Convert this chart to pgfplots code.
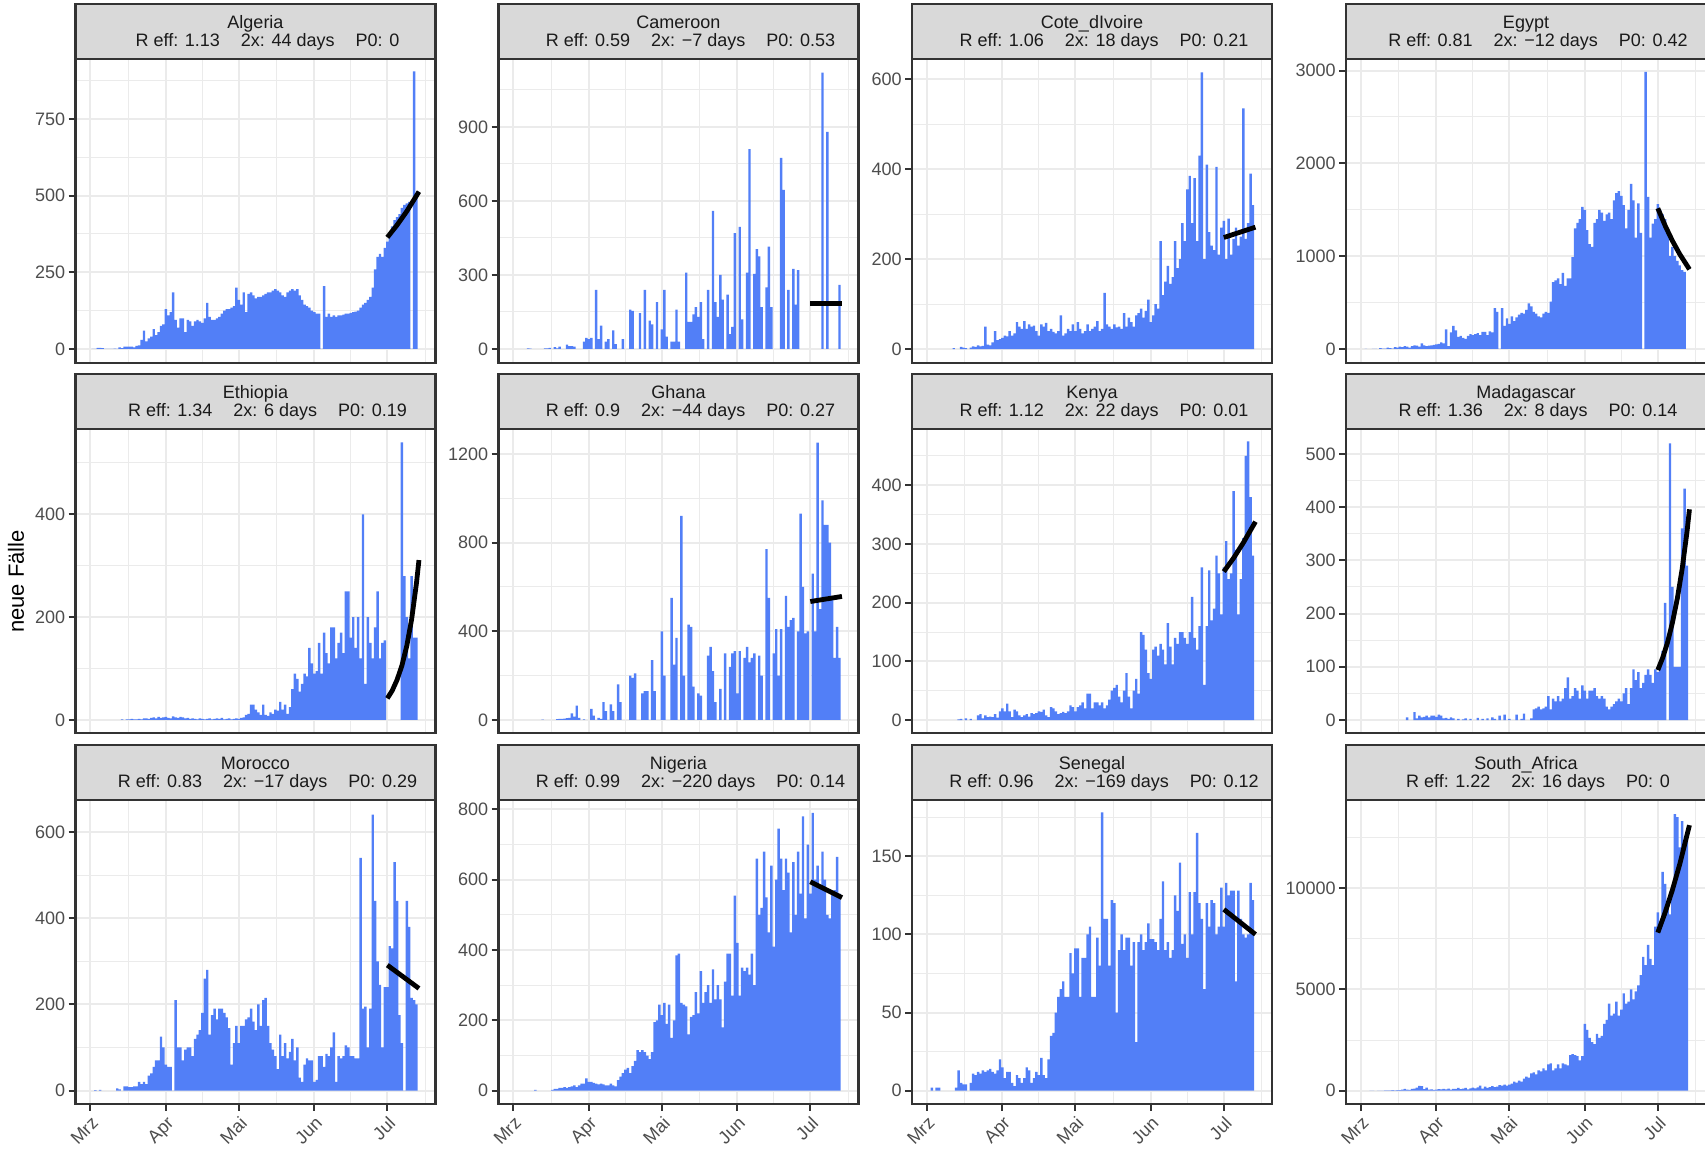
\documentclass[border=0pt]{standalone}
\usepackage{fontspec}
\setmainfont{Liberation Sans}
\usepackage{pgfplots}
\usepackage{pgfplotstable}
\pgfplotsset{compat=1.18}
\definecolor{grey10}{HTML}{1A1A1A}
\definecolor{grey20}{HTML}{333333}
\definecolor{grey30}{HTML}{4D4D4D}
\definecolor{grey85}{HTML}{D9D9D9}
\definecolor{grey92}{HTML}{EBEBEB}
\definecolor{barblue}{RGB}{82,127,247}
\newcommand\tickf{\fontsize{9}{10}\selectfont}
\newcommand\gap{\hspace{10.5pt}}

\pgfplotsset{
  panel/.style={
    scale only axis, width=180pt, height=152pt,
    xmin=-6.15, xmax=141.8,
    axis line style={draw=grey20, line width=1.1pt},
    tick align=outside, xtick pos=bottom, ytick pos=left,
    xtick={0,31,61,92,122},
    minor xtick={15.5,46,76.5,107,137.5},
    grid=both,
    major grid style={draw=grey92, line width=1pt},
    minor grid style={draw=grey92, line width=0.5pt},
    major tick length=3.5pt, minor tick length=0pt,
    tick style={draw=grey20, line width=1pt},
    yticklabel style={font=\tickf, text=grey30, inner sep=1.5pt},
    xticklabels={},
    /pgf/number format/assume math mode=true,
  },
  toprow/.style={xmajorticks=false},
  botrow/.style={xticklabels={Mrz,Apr,Mai,Jun,Jul},
    xticklabel style={rotate=45, anchor=north east, font=\tickf, text=grey30, inner sep=1.5pt}},
  bars/.style={ybar, bar width=1, fill=barblue, draw=none},
  fit/.style={black, line width=2.4pt},
}

\newcommand\strip[4]{\begin{scope}[shift={(#1,#2)}]
  \draw[draw=grey20, line width=1.1pt, fill=grey85] (0,0) rectangle (180pt,27.5pt);
  \node[anchor=base, text=grey10, font=\tickf, inner sep=0pt] at (90pt,15.4pt) {#3};
  \node[anchor=base, text=grey10, font=\tickf, inner sep=0pt] at (96pt,6.2pt) {#4};
\end{scope}}

\pgfplotstableread[row sep=\\]{d v\\1 0\\2 0\\3 4\\4 4\\5 3\\6 0\\7 0\\8 0\\9 0\\10 1\\11 0\\12 5\\13 3\\14 8\\15 8\\16 8\\17 8\\18 5\\19 10\\20 12\\21 30\\22 60\\23 25\\24 35\\25 40\\26 65\\27 45\\28 55\\29 75\\30 80\\31 130\\32 110\\33 120\\34 185\\35 95\\36 70\\37 100\\38 100\\39 55\\40 95\\41 90\\42 75\\43 90\\44 95\\45 90\\46 85\\47 100\\48 150\\49 105\\50 95\\51 95\\52 100\\53 105\\54 115\\55 125\\56 130\\57 130\\58 135\\59 140\\60 200\\61 160\\62 145\\63 185\\64 120\\65 180\\66 185\\67 175\\68 165\\69 170\\70 170\\71 175\\72 180\\73 185\\74 185\\75 190\\76 195\\77 190\\78 185\\79 175\\80 170\\81 185\\82 190\\83 195\\84 190\\85 195\\86 175\\87 160\\88 145\\89 140\\90 135\\91 125\\92 120\\93 115\\94 115\\95 0\\96 205\\97 105\\98 115\\99 105\\100 110\\101 105\\102 110\\103 110\\104 112\\105 115\\106 115\\107 118\\108 120\\109 122\\110 125\\111 135\\112 145\\113 150\\114 160\\115 170\\116 200\\117 260\\118 300\\119 310\\120 300\\121 330\\122 350\\123 380\\124 400\\125 420\\126 430\\127 440\\128 460\\129 470\\130 475\\131 480\\132 0\\133 905\\134 495\\}\tALG

\pgfplotstableread[row sep=\\]{d v\\6 2\\7 1\\13 2\\14 3\\15 5\\17 8\\18 3\\19 10\\22 18\\23 12\\24 12\\25 10\\29 30\\30 45\\31 40\\32 45\\34 240\\35 40\\36 95\\38 30\\39 40\\41 75\\42 20\\45 40\\48 160\\49 155\\52 145\\54 240\\56 115\\57 100\\59 190\\61 80\\62 240\\63 50\\65 30\\66 30\\67 160\\68 30\\71 310\\72 110\\73 110\\74 140\\75 170\\76 130\\77 190\\78 40\\80 240\\82 560\\83 190\\84 130\\85 300\\86 200\\88 220\\89 60\\90 90\\91 470\\93 495\\94 120\\96 310\\97 810\\99 305\\100 405\\101 375\\102 170\\104 250\\105 415\\106 170\\110 775\\111 645\\113 240\\115 325\\116 180\\117 320\\127 1120\\129 880\\134 260\\}\tCAM

\pgfplotstableread[row sep=\\]{d v\\11 2\\14 5\\15 3\\16 2\\18 3\\19 6\\20 5\\21 8\\22 6\\23 7\\24 50\\25 10\\26 8\\27 15\\28 40\\29 20\\30 22\\31 25\\32 30\\33 28\\34 40\\35 30\\36 35\\37 60\\38 50\\39 45\\40 62\\41 45\\42 55\\43 50\\44 52\\45 40\\46 30\\47 55\\48 50\\49 58\\50 40\\51 45\\52 38\\53 35\\54 40\\55 75\\56 30\\57 35\\58 45\\59 40\\60 55\\61 40\\62 60\\63 45\\64 35\\65 40\\66 55\\67 40\\68 45\\69 50\\70 62\\71 40\\72 45\\73 125\\74 55\\75 50\\76 45\\77 55\\78 48\\79 50\\80 45\\81 80\\82 50\\83 70\\84 60\\85 50\\86 75\\87 80\\88 90\\89 70\\90 85\\91 110\\92 60\\93 75\\94 100\\95 90\\96 240\\97 120\\98 150\\99 185\\100 145\\101 160\\102 240\\103 180\\104 200\\105 280\\106 240\\107 355\\108 385\\109 280\\110 380\\111 240\\112 430\\113 615\\114 200\\115 410\\116 260\\117 230\\118 220\\119 405\\120 210\\121 270\\122 285\\123 200\\124 290\\125 210\\126 245\\127 270\\128 230\\129 250\\130 535\\131 245\\132 280\\133 390\\134 320\\}\tCIV

\pgfplotstableread[row sep=\\]{d v\\2 1\\5 2\\6 1\\8 10\\9 5\\10 3\\11 15\\12 10\\13 5\\14 20\\15 15\\16 25\\17 20\\18 30\\19 25\\20 15\\21 30\\22 40\\23 35\\24 25\\25 60\\26 40\\27 30\\28 35\\29 40\\30 45\\31 50\\32 55\\33 70\\34 60\\35 210\\36 30\\37 180\\38 250\\39 200\\40 130\\41 140\\42 120\\43 110\\44 140\\45 160\\46 150\\47 160\\48 170\\49 150\\50 185\\51 185\\52 150\\53 190\\54 180\\55 440\\56 400\\57 0\\58 440\\59 250\\60 330\\61 270\\62 350\\63 300\\64 340\\65 370\\66 390\\67 380\\68 420\\69 490\\70 460\\71 400\\72 380\\73 350\\74 340\\75 380\\76 400\\77 390\\78 510\\79 720\\80 740\\81 760\\82 700\\83 820\\84 680\\85 760\\86 760\\87 990\\88 1300\\89 1360\\90 1400\\91 1530\\92 1500\\93 1280\\94 1130\\95 1100\\96 1360\\97 1400\\98 1500\\99 1470\\100 1380\\101 1450\\102 1470\\103 1400\\104 1600\\105 1680\\106 1700\\107 1650\\108 1550\\109 1300\\110 1500\\111 1780\\112 1600\\113 1200\\114 1570\\115 1250\\116 0\\117 2985\\118 1640\\119 1200\\120 1350\\121 1400\\122 1560\\123 1500\\124 1450\\125 1400\\126 1300\\127 1000\\128 1100\\129 1000\\130 950\\131 900\\132 850\\133 830\\}\tEGY

\pgfplotstableread[row sep=\\]{d v\\13 1\\15 1\\16 1\\17 2\\18 1\\19 1\\20 2\\21 1\\22 3\\23 3\\24 2\\25 4\\26 5\\27 3\\28 6\\29 4\\30 5\\31 6\\32 4\\33 3\\34 7\\35 5\\36 4\\37 6\\38 5\\39 3\\40 4\\41 2\\42 3\\43 2\\44 1\\45 3\\46 2\\47 1\\48 2\\49 3\\50 1\\51 2\\52 3\\53 2\\54 4\\55 1\\56 2\\57 3\\58 1\\59 2\\60 3\\61 2\\62 4\\63 5\\64 10\\65 12\\66 30\\67 30\\68 20\\69 15\\70 10\\71 30\\72 10\\73 8\\74 15\\75 12\\76 20\\77 18\\78 35\\79 20\\80 30\\81 12\\82 25\\83 60\\84 90\\85 80\\86 55\\87 70\\88 90\\89 85\\90 140\\91 110\\92 90\\93 95\\94 150\\95 90\\96 170\\97 130\\98 110\\99 180\\100 180\\101 120\\102 150\\103 170\\104 130\\105 250\\106 250\\107 160\\108 200\\109 140\\110 200\\111 120\\112 400\\113 70\\114 200\\115 150\\116 120\\117 180\\118 250\\119 120\\120 150\\121 155\\128 540\\129 280\\130 200\\131 120\\132 280\\133 160\\134 160\\}\tETH

\pgfplotstableread[row sep=\\]{d v\\12 2\\18 4\\19 5\\20 5\\21 6\\22 8\\23 10\\24 30\\25 15\\26 65\\27 10\\29 3\\32 50\\33 20\\35 10\\36 5\\37 80\\38 40\\40 70\\41 40\\43 160\\44 80\\48 200\\49 190\\50 210\\53 120\\54 130\\55 130\\57 270\\58 130\\61 400\\62 200\\65 550\\66 250\\67 370\\69 920\\70 200\\72 430\\73 420\\74 150\\76 120\\77 110\\80 290\\81 330\\82 220\\83 80\\85 140\\87 300\\89 240\\90 300\\91 310\\92 120\\93 310\\95 280\\96 330\\97 260\\98 280\\99 300\\101 290\\102 200\\104 770\\105 550\\107 300\\108 410\\109 200\\110 410\\112 560\\113 420\\114 450\\115 460\\117 400\\118 930\\119 600\\120 390\\121 400\\123 660\\124 400\\125 1250\\126 500\\127 990\\128 880\\129 880\\130 800\\131 540\\132 280\\133 420\\134 280\\}\tGHA

\pgfplotstableread[row sep=\\]{d v\\13 1\\14 2\\16 3\\18 2\\21 8\\22 10\\23 3\\24 8\\25 5\\26 6\\27 5\\28 10\\29 4\\30 15\\31 20\\32 15\\33 28\\34 15\\35 5\\36 18\\37 15\\38 8\\39 5\\40 8\\41 10\\42 6\\43 12\\44 10\\45 12\\46 15\\47 14\\48 18\\49 8\\50 5\\51 22\\52 20\\53 15\\54 10\\55 12\\56 14\\57 12\\58 15\\59 25\\60 22\\61 15\\62 22\\63 25\\64 30\\65 20\\66 45\\67 45\\68 20\\69 30\\70 30\\71 25\\72 30\\73 20\\74 25\\75 35\\76 50\\77 55\\78 60\\79 40\\80 30\\81 50\\82 80\\83 40\\84 20\\85 50\\86 70\\87 45\\88 150\\89 145\\90 120\\91 80\\92 70\\93 120\\94 125\\95 110\\96 130\\97 120\\98 95\\99 165\\100 125\\101 95\\102 140\\103 130\\104 150\\105 150\\106 140\\107 130\\108 150\\109 210\\110 140\\111 120\\112 160\\113 260\\114 60\\115 160\\116 255\\117 170\\118 190\\119 280\\120 250\\121 180\\122 260\\123 305\\124 240\\125 250\\126 390\\127 290\\128 180\\129 240\\130 310\\131 450\\132 475\\133 380\\134 280\\}\tKEN

\pgfplotstableread[row sep=\\]{d v\\19 5\\22 15\\23 3\\24 8\\25 5\\26 6\\27 8\\28 5\\29 8\\30 8\\31 6\\32 10\\33 8\\34 3\\35 4\\36 2\\37 5\\38 3\\40 2\\42 1\\43 3\\45 2\\48 4\\50 2\\52 3\\54 5\\55 2\\57 8\\59 10\\61 2\\64 10\\66 2\\67 12\\70 3\\71 20\\72 22\\73 25\\74 20\\75 22\\76 25\\77 45\\78 20\\79 40\\80 35\\81 45\\82 35\\83 40\\84 60\\85 80\\86 40\\87 45\\88 60\\89 55\\90 40\\91 65\\92 55\\93 40\\94 55\\95 55\\96 60\\97 45\\98 40\\99 45\\100 40\\101 25\\102 20\\103 25\\104 30\\105 35\\106 40\\107 35\\108 50\\109 60\\110 30\\111 60\\112 95\\113 75\\114 90\\115 60\\116 70\\117 85\\118 95\\119 85\\120 70\\121 95\\122 90\\123 105\\124 130\\125 220\\127 520\\128 250\\129 100\\130 100\\131 100\\132 360\\133 435\\134 290\\}\tMAD

\pgfplotstableread[row sep=\\]{d v\\2 1\\4 2\\11 5\\12 3\\14 10\\15 10\\16 8\\17 8\\18 10\\19 10\\20 20\\21 15\\22 20\\23 15\\24 35\\25 40\\26 55\\27 70\\28 70\\29 125\\30 100\\31 60\\32 55\\33 55\\34 0\\35 210\\36 100\\37 100\\38 70\\39 95\\40 100\\41 100\\42 80\\43 120\\44 130\\45 140\\46 180\\47 260\\48 280\\49 130\\50 175\\51 190\\52 165\\53 190\\54 190\\55 180\\56 170\\57 145\\58 60\\59 110\\60 150\\61 110\\62 150\\63 150\\64 165\\65 170\\66 190\\67 160\\68 140\\69 200\\70 150\\71 210\\72 215\\73 150\\74 110\\75 95\\76 80\\77 50\\78 130\\79 80\\80 110\\81 75\\82 90\\83 120\\84 70\\85 100\\86 30\\87 20\\88 60\\89 75\\90 70\\91 70\\92 20\\93 25\\94 80\\95 80\\96 55\\97 85\\98 80\\99 100\\100 135\\101 20\\102 80\\103 75\\104 80\\105 105\\106 100\\107 80\\108 80\\109 75\\110 75\\111 540\\112 190\\113 195\\114 100\\115 190\\116 640\\117 440\\118 300\\119 245\\120 100\\121 240\\122 240\\123 335\\124 330\\125 530\\126 440\\127 175\\128 110\\129 0\\130 440\\131 380\\132 215\\133 210\\134 200\\}\tMOR

\pgfplotstableread[row sep=\\]{d v\\9 2\\16 2\\17 5\\18 5\\19 8\\20 8\\21 10\\22 8\\23 10\\24 12\\25 15\\26 10\\27 15\\28 20\\29 20\\30 35\\31 25\\32 25\\33 22\\34 20\\35 18\\36 20\\37 18\\38 15\\39 15\\40 20\\41 15\\42 12\\43 30\\44 40\\45 50\\46 60\\47 65\\48 50\\49 70\\50 85\\51 115\\52 110\\53 115\\54 110\\55 100\\56 90\\57 110\\58 195\\59 200\\60 245\\61 215\\62 250\\63 190\\64 245\\65 150\\66 200\\67 385\\68 390\\69 250\\70 245\\71 240\\72 160\\73 210\\74 215\\75 280\\76 220\\77 340\\78 250\\79 280\\80 300\\81 250\\82 345\\83 260\\84 300\\85 260\\86 180\\87 310\\88 390\\89 390\\90 270\\91 555\\92 420\\93 270\\94 350\\95 340\\96 350\\97 330\\98 390\\99 300\\100 660\\101 500\\102 520\\103 680\\104 550\\105 450\\106 640\\107 410\\108 600\\109 745\\110 660\\111 570\\112 660\\113 620\\114 450\\115 650\\116 500\\117 680\\118 560\\119 780\\120 490\\121 700\\122 560\\123 790\\124 600\\125 640\\126 580\\127 680\\128 600\\129 500\\130 490\\131 560\\132 570\\133 665\\134 560\\}\tNGA

\pgfplotstableread[row sep=\\]{d v\\2 2\\4 2\\5 2\\12 2\\13 13\\14 5\\15 4\\16 4\\18 5\\19 11\\20 10\\21 12\\22 11\\23 13\\24 12\\25 13\\26 14\\27 12\\28 11\\29 13\\30 20\\31 15\\32 8\\33 12\\34 12\\35 5\\36 3\\37 10\\38 8\\39 5\\40 8\\41 15\\42 13\\43 5\\44 8\\45 12\\46 10\\47 21\\48 10\\49 8\\50 20\\51 35\\52 37\\53 50\\54 60\\55 65\\56 70\\57 60\\58 60\\59 88\\60 75\\61 91\\62 91\\63 60\\64 85\\65 85\\66 100\\67 105\\68 60\\69 60\\70 98\\71 80\\72 178\\73 110\\74 110\\75 80\\76 122\\77 120\\78 50\\79 90\\80 100\\81 90\\82 98\\83 98\\84 80\\85 95\\86 31\\87 95\\88 100\\89 90\\90 95\\91 107\\92 97\\93 97\\94 95\\95 90\\96 110\\97 134\\98 90\\99 95\\100 85\\101 90\\102 125\\103 115\\104 146\\105 94\\106 100\\107 85\\108 127\\109 100\\110 127\\111 165\\112 120\\113 110\\114 65\\115 120\\116 105\\117 122\\118 120\\119 100\\120 105\\121 130\\122 105\\123 133\\124 125\\125 128\\126 128\\127 70\\128 128\\129 110\\130 100\\131 98\\132 100\\133 133\\134 122\\}\tSEN

\pgfplotstableread[row sep=\\]{d v\\4 1\\5 3\\7 4\\8 6\\9 3\\10 10\\11 14\\12 20\\13 26\\14 15\\15 24\\16 33\\17 50\\18 85\\19 52\\20 38\\21 90\\22 100\\23 154\\24 243\\25 220\\26 80\\27 150\\28 50\\29 70\\30 40\\31 50\\32 80\\33 60\\34 90\\35 70\\36 100\\37 50\\38 95\\39 90\\40 140\\41 80\\42 100\\43 140\\44 70\\45 110\\46 150\\47 120\\48 160\\49 250\\50 100\\51 200\\52 140\\53 170\\54 230\\55 180\\56 200\\57 280\\58 250\\59 300\\60 250\\61 300\\62 350\\63 450\\64 400\\65 500\\66 450\\67 600\\68 700\\69 650\\70 850\\71 900\\72 800\\73 1000\\74 950\\75 1100\\76 1000\\77 1300\\78 1350\\79 1000\\80 1100\\81 1300\\82 1100\\83 1350\\84 1300\\85 1250\\86 1750\\87 1800\\88 1750\\89 1700\\90 1500\\91 1700\\92 3300\\93 3000\\94 2600\\95 2400\\96 2300\\97 2800\\98 2600\\99 2700\\100 3300\\101 3500\\102 4300\\103 3700\\104 3800\\105 4400\\106 3700\\107 4000\\108 4800\\109 4300\\110 4400\\111 5000\\112 4500\\113 4900\\114 5200\\115 5700\\116 6600\\117 6200\\118 7200\\119 6500\\120 6200\\121 8100\\122 8800\\123 8000\\124 10800\\125 10200\\126 9000\\127 8700\\128 10000\\129 13650\\130 13500\\131 12000\\132 13300\\133 12300\\134 12500\\}\tRSA

\begin{document}
\begin{tikzpicture}
\useasboundingbox (0,0) rectangle (852.5pt,574.5pt);

% ---------- row 1 ----------
\begin{axis}[panel, toprow, at={(37.75pt,393pt)}, anchor=south west,
  ymin=-45.6, ymax=945.6, ytick={0,250,500,750}, yticklabels={0,250,500,750},
  minor ytick={125,375,625,875}]
\addplot[bars] table[x=d,y=v]{\tALG};
\addplot[fit] coordinates {(122,364)(126,404)(130,449)(135,513)};
\end{axis}
\begin{axis}[panel, toprow, at={(249.25pt,393pt)}, anchor=south west,
  ymin=-56.7, ymax=1175.6, ytick={0,300,600,900}, yticklabels={0,300,600,900},
  minor ytick={150,450,750,1050}]
\addplot[bars] table[x=d,y=v]{\tCAM};
\addplot[fit] coordinates {(122,185)(135,185)};
\end{axis}
\begin{axis}[panel, toprow, at={(456pt,393pt)}, anchor=south west,
  ymin=-31, ymax=645, ytick={0,200,400,600}, yticklabels={0,200,400,600},
  minor ytick={100,300,500}]
\addplot[bars] table[x=d,y=v]{\tCIV};
\addplot[fit] coordinates {(122,248)(135,271)};
\end{axis}
\begin{axis}[panel, toprow, at={(673pt,393pt)}, anchor=south west,
  ymin=-151, ymax=3125, ytick={0,1000,2000,3000}, yticklabels={0,1000,2000,3000},
  minor ytick={500,1500,2500}]
\addplot[bars] table[x=d,y=v]{\tEGY};
\addplot[fit] coordinates {(122,1516)(125,1329)(128,1165)(131,1022)(135,858)};
\end{axis}

% ---------- row 2 ----------
\begin{axis}[panel, toprow, at={(37.75pt,208pt)}, anchor=south west,
  ymin=-25.3, ymax=566, ytick={0,200,400}, yticklabels={0,200,400},
  minor ytick={100,300,500}]
\addplot[bars] table[x=d,y=v]{\tETH};
\addplot[fit] coordinates {(122,42)(124,57)(126,78)(128,106)(130,144)(132,196)(134,267)(135,311)};
\end{axis}
\begin{axis}[panel, toprow, at={(249.25pt,208pt)}, anchor=south west,
  ymin=-58.6, ymax=1312, ytick={0,400,800,1200}, yticklabels={0,400,800,1200},
  minor ytick={200,600,1000}]
\addplot[bars] table[x=d,y=v]{\tGHA};
\addplot[fit] coordinates {(122,534)(135,557)};
\end{axis}
\begin{axis}[panel, toprow, at={(456pt,208pt)}, anchor=south west,
  ymin=-22, ymax=496, ytick={0,100,200,300,400}, yticklabels={0,100,200,300,400},
  minor ytick={50,150,250,350,450}]
\addplot[bars] table[x=d,y=v]{\tKEN};
\addplot[fit] coordinates {(122,253)(126,276)(130,302)(135,338)};
\end{axis}
\begin{axis}[panel, toprow, at={(673pt,208pt)}, anchor=south west,
  ymin=-24.4, ymax=547, ytick={0,100,200,300,400,500}, yticklabels={0,100,200,300,400,500},
  minor ytick={50,150,250,350,450}]
\addplot[bars] table[x=d,y=v]{\tMAD};
\addplot[fit] coordinates {(122,94)(124,117)(126,146)(128,183)(130,228)(132,284)(134,354)(135,396)};
\end{axis}

% ---------- row 3 ----------
\begin{axis}[panel, botrow, at={(37.75pt,22.5pt)}, anchor=south west,
  ymin=-31, ymax=674, ytick={0,200,400,600}, yticklabels={0,200,400,600},
  minor ytick={100,300,500}]
\addplot[bars] table[x=d,y=v]{\tMOR};
\addplot[fit] coordinates {(122,291)(135,237)};
\end{axis}
\begin{axis}[panel, botrow, at={(249.25pt,22.5pt)}, anchor=south west,
  ymin=-37.8, ymax=826.6, ytick={0,200,400,600,800}, yticklabels={0,200,400,600,800},
  minor ytick={100,300,500,700}]
\addplot[bars] table[x=d,y=v]{\tNGA};
\addplot[fit] coordinates {(122,594)(135,549)};
\end{axis}
\begin{axis}[panel, botrow, at={(456pt,22.5pt)}, anchor=south west,
  ymin=-8.5, ymax=186, ytick={0,50,100,150}, yticklabels={0,50,100,150},
  minor ytick={25,75,125,175}]
\addplot[bars] table[x=d,y=v]{\tSEN};
\addplot[fit] coordinates {(122,116)(135,100)};
\end{axis}
\begin{axis}[panel, botrow, at={(673pt,22.5pt)}, anchor=south west,
  ymin=-656, ymax=14343, ytick={0,5000,10000}, yticklabels={0,5000,10000},
  minor ytick={2500,7500,12500}]
\addplot[bars] table[x=d,y=v]{\tRSA};
\addplot[fit] coordinates {(122,7800)(125,8791)(128,9908)(131,11170)(135,13100)};
\end{axis}

% ---------- strips ----------
\strip{37.75pt}{545pt}{Algeria}{R eff: 1.13\gap 2x: 44 days\gap P0: 0}
\strip{249.25pt}{545pt}{Cameroon}{R eff: 0.59\gap 2x: −7 days\gap P0: 0.53}
\strip{456pt}{545pt}{Cote\_dIvoire}{R eff: 1.06\gap 2x: 18 days\gap P0: 0.21}
\strip{673pt}{545pt}{Egypt}{R eff: 0.81\gap 2x: −12 days\gap P0: 0.42}
\strip{37.75pt}{360pt}{Ethiopia}{R eff: 1.34\gap 2x: 6 days\gap P0: 0.19}
\strip{249.25pt}{360pt}{Ghana}{R eff: 0.9\gap 2x: −44 days\gap P0: 0.27}
\strip{456pt}{360pt}{Kenya}{R eff: 1.12\gap 2x: 22 days\gap P0: 0.01}
\strip{673pt}{360pt}{Madagascar}{R eff: 1.36\gap 2x: 8 days\gap P0: 0.14}
\strip{37.75pt}{174.5pt}{Morocco}{R eff: 0.83\gap 2x: −17 days\gap P0: 0.29}
\strip{249.25pt}{174.5pt}{Nigeria}{R eff: 0.99\gap 2x: −220 days\gap P0: 0.14}
\strip{456pt}{174.5pt}{Senegal}{R eff: 0.96\gap 2x: −169 days\gap P0: 0.12}
\strip{673pt}{174.5pt}{South\_Africa}{R eff: 1.22\gap 2x: 16 days\gap P0: 0}

\node[rotate=90, font=\fontsize{11}{13}\selectfont, text=black] at (8pt,283.75pt) {neue Fälle};
\end{tikzpicture}
\end{document}
